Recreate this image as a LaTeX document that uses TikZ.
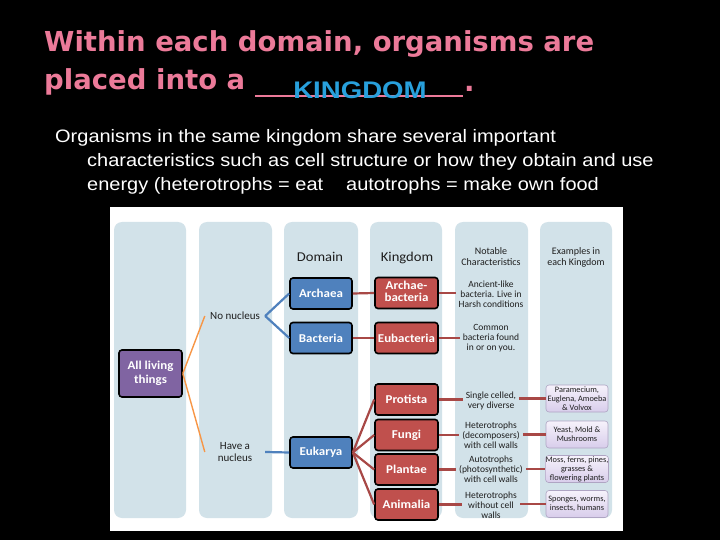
\documentclass[tikz,border=0pt]{standalone}
\usepackage{fontspec}
\usepackage{graphicx}
\setmainfont{Liberation Sans}
\newfontfamily\dejavu{DejaVu Sans}
\newfontfamily\calib{Carlito}
\definecolor{titlepink}{RGB}{236,122,153}
\definecolor{kingblue}{RGB}{40,160,220}
\definecolor{colbg}{RGB}{210,226,233}
\definecolor{domblue}{RGB}{79,129,189}
\definecolor{kingred}{RGB}{192,80,77}
\definecolor{allpurple}{RGB}{128,100,162}
\definecolor{linered}{RGB}{168,72,70}
\definecolor{lineblue}{RGB}{79,129,189}
\definecolor{lineorange}{RGB}{247,150,70}
\definecolor{exlight}{RGB}{246,242,251}
\definecolor{exdark}{RGB}{216,205,235}
\definecolor{exborder}{RGB}{175,165,195}
\definecolor{darktext}{RGB}{30,30,30}
\newcommand\hsc[1]{\scalebox{1.0}[1]{#1}}
\newcommand\chsc[1]{\scalebox{1.08}[1]{#1}}
\newcommand\chml[1]{\scalebox{1.08}[1]{\begin{tabular}{@{}c@{}}#1\end{tabular}}}
\begin{document}
\begin{tikzpicture}[x=1pt,y=-1pt,
  colbox/.style={fill=colbg, rounded corners=8pt},
  obox/.style={draw=black, line width=1.6pt, rounded corners=3pt, text=white,
    font=\calib\bfseries\fontsize{12}{14}\selectfont, align=center, inner sep=0pt},
  dombox/.style={obox, fill=domblue, minimum width=62pt, minimum height=31pt},
  kingbox/.style={obox, fill=kingred, minimum width=63pt, minimum height=31pt},
  exbox/.style={draw=exborder, line width=0.6pt, rounded corners=3pt,
    top color=exlight, bottom color=exdark, minimum width=62pt, minimum height=27pt,
    inner sep=0pt, align=center, font=\calib\fontsize{8.3}{9}\selectfont, text=darktext},
  lbl/.style={font=\calib\fontsize{9.5}{10}\selectfont, text=darktext, align=center, inner sep=3pt},
  nuc/.style={font=\calib\fontsize{11}{12}\selectfont, text=darktext, align=center, inner sep=0pt, minimum width=60pt},
  hdr/.style={font=\calib\fontsize{13.5}{14}\selectfont, text=darktext},
  shdr/.style={font=\calib\fontsize{10}{11}\selectfont, text=darktext, align=center},
  ttl/.style={font=\dejavu\bfseries\fontsize{27.5}{30}\selectfont, text=titlepink, anchor=base west, inner sep=0pt},
  body/.style={font=\fontsize{18}{20}\selectfont, text=white, anchor=base west, inner sep=0pt},
  rline/.style={draw=linered, line width=2.2pt},
  bline/.style={draw=lineblue, line width=2.2pt},
  oline/.style={draw=lineorange, line width=1.4pt}]
\fill[black] (0,0) rectangle (720,540);
\useasboundingbox (0,0) rectangle (720,540);

% title
\node[ttl] (t1) at (44,52) {\hsc{Within each domain, organisms are}};
\node[ttl] (t2) at (44,90) {\hsc{placed into a}};
\coordinate (ul1) at (255,96);
\coordinate (ul2) at (463,96);
\draw[titlepink, line width=1.3pt] (ul1) -- (ul2);
\node[ttl] (t3) at (464,92) {.};
\node[font=\bfseries\fontsize{24}{26}\selectfont, text=kingblue, anchor=base, inner sep=0pt] (king) at (360,99) {\scalebox{1.15}[1]{KINGDOM}};

% body
\node[body] (b1) at (55,143) {\scalebox{1.11}[1]{Organisms in the same kingdom share several important}};
\node[body] (b2) at (87,167) {\scalebox{1.11}[1]{characteristics such as cell structure or how they obtain and use}};
\node[body] (b3) at (87,191) {\scalebox{1.11}[1]{energy (heterotrophs = eat}};
\node[body] (b4) at (346,191) {\scalebox{1.11}[1]{autotrophs = make own food}};

% chart background
\fill[white] (110,207) rectangle (623,531);
\fill[colbox] (114,222) rectangle (186,518);
\fill[colbox] (199,222) rectangle (272,518);
\fill[colbox] (284,222) rectangle (358,518);
\fill[colbox] (370,222) rectangle (442,518);
\fill[colbox] (455,222) rectangle (528,518);
\fill[colbox] (540,222) rectangle (612,518);

% headers
\node[hdr] (hdom) at (320,257) {\chsc{Domain}};
\node[hdr] (hking) at (407,258) {\chsc{Kingdom}};
\node[shdr] (hchar) at (491,257) {Notable\\Characteristics};
\node[shdr] (hex) at (576,257) {Examples in\\each Kingdom};

% nodes
\node[obox, fill=allpurple, minimum width=63pt, minimum height=47pt] (all) at (150.5,373.5) {\chml{All living\\things}};
\node[nuc] (nonuc) at (235,316) {No nucleus};
\node[nuc] (havenuc) at (235,452) {Have a\\nucleus};

\node[dombox] (archaea) at (321,293.5) {\chsc{Archaea}};
\node[dombox] (bacteria) at (321,338) {\chsc{Bacteria}};
\node[dombox] (eukarya) at (321,452.5) {\chsc{Eukarya}};

\node[kingbox] (archb) at (406.5,293) {\chml{Archae-\\[-2pt]bacteria}};
\node[kingbox] (eubac) at (406.5,338) {\chsc{Eubacteria}};
\node[kingbox] (protista) at (406.5,399.5) {\chsc{Protista}};
\node[kingbox] (fungi) at (406.5,435) {\chsc{Fungi}};
\node[kingbox] (plantae) at (406.5,469.5) {\chsc{Plantae}};
\node[kingbox] (animalia) at (406.5,504.5) {\chsc{Animalia}};

\node[lbl] (chA) at (491,294) {Ancient-like\\bacteria. Live in\\Harsh conditions};
\node[lbl] (chB) at (491,338) {Common\\bacteria found\\in or on you.};
\node[lbl] (chP) at (491,401) {Single celled,\\very diverse};
\node[lbl] (chF) at (491,435) {Heterotrophs\\(decomposers)\\with cell walls};
\node[lbl] (chPl) at (491,469) {Autotrophs\\(photosynthetic)\\with cell walls};
\node[lbl] (chAn) at (491,505) {Heterotrophs\\without cell\\walls};

\node[exbox] (ex1) at (577,398.5) {Paramecium,\\Euglena, Amoeba\\\& Volvox};
\node[exbox] (ex2) at (577,434.5) {Yeast, Mold \&\\Mushrooms};
\node[exbox] (ex3) at (577,469) {Moss, ferns, pines,\\grasses \&\\flowering plants};
\node[exbox] (ex4) at (577,504) {Sponges, worms,\\insects, humans};

% connectors
\draw[oline] (all.east) -- (nonuc.west);
\draw[oline] (all.east) -- (havenuc.west);
\draw[bline] (nonuc.east) -- (archaea.west);
\draw[bline] (nonuc.east) -- (bacteria.west);
\draw[bline] (havenuc.east) -- (eukarya.west);
\draw[rline] (archaea.east) -- (archb.west);
\draw[rline] (bacteria.east) -- (eubac.west);
\foreach \k in {protista,fungi,plantae,animalia}
  \draw[rline] (eukarya.east) -- (\k.west);
\draw[rline] (archb.east) -- (archb.east -| chA.west);
\draw[rline] (eubac.east) -- (eubac.east -| chB.west);
\draw[rline] (protista.east) -- (protista.east -| chP.west);
\draw[rline] (fungi.east) -- (fungi.east -| chF.west);
\draw[rline] (plantae.east) -- (plantae.east -| chPl.west);
\draw[rline] (animalia.east) -- (animalia.east -| chAn.west);
\draw[rline] (ex1.west -| chP.east) -- (ex1.west);
\draw[rline] (ex2.west -| chF.east) -- (ex2.west);
\draw[rline] (ex3.west -| chPl.east) -- (ex3.west);
\draw[rline] (ex4.west -| chAn.east) -- (ex4.west);
\end{tikzpicture}
\end{document}
